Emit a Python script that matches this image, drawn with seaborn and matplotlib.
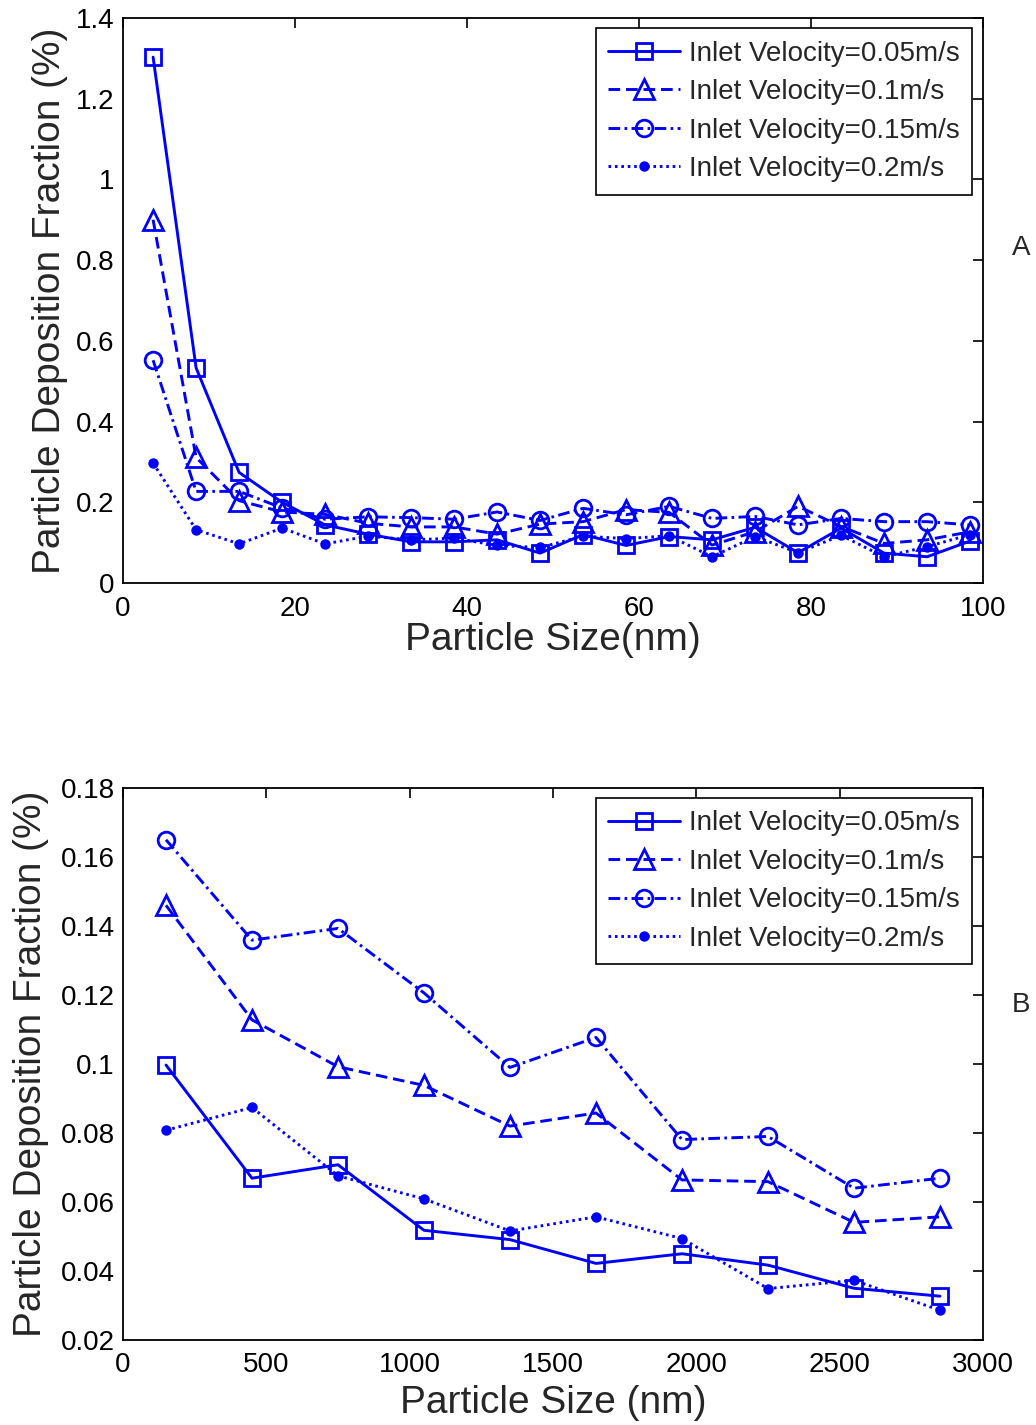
import numpy as np
import pandas as pd
import matplotlib
matplotlib.use("Agg")
import matplotlib.pyplot as plt
import seaborn as sns
from matplotlib.lines import Line2D

# ---------------- data ----------------
labels = ["Inlet Velocity=0.05m/s", "Inlet Velocity=0.1m/s",
          "Inlet Velocity=0.15m/s", "Inlet Velocity=0.2m/s"]

size_a = [3.5, 8.5, 13.5, 18.5, 23.5, 28.5, 33.5, 38.5, 43.5, 48.5,
          53.5, 58.5, 63.5, 68.5, 73.5, 78.5, 83.5, 88.5, 93.5, 98.5]
a_v005 = [1.303, 0.533, 0.274, 0.200, 0.144, 0.121, 0.102, 0.102, 0.107, 0.074,
          0.120, 0.093, 0.115, 0.107, 0.138, 0.075, 0.136, 0.074, 0.065, 0.104]
a_v010 = [0.900, 0.311, 0.204, 0.176, 0.170, 0.148, 0.139, 0.139, 0.121, 0.146,
          0.152, 0.182, 0.175, 0.094, 0.127, 0.190, 0.140, 0.098, 0.107, 0.127]
a_v015 = [0.552, 0.227, 0.227, 0.186, 0.158, 0.164, 0.162, 0.158, 0.176, 0.155,
          0.185, 0.169, 0.190, 0.160, 0.165, 0.144, 0.160, 0.152, 0.152, 0.144]
a_v020 = [0.297, 0.132, 0.097, 0.136, 0.097, 0.116, 0.107, 0.111, 0.093, 0.088,
          0.116, 0.110, 0.117, 0.065, 0.115, 0.075, 0.118, 0.065, 0.090, 0.120]

size_b = [150, 450, 750, 1050, 1350, 1650, 1950, 2250, 2550, 2850]
b_v005 = [0.0997, 0.0669, 0.0708, 0.0518, 0.0491, 0.0422, 0.0450, 0.0417, 0.0350, 0.0327]
b_v010 = [0.1460, 0.1128, 0.0992, 0.0938, 0.0820, 0.0858, 0.0664, 0.0659, 0.0541, 0.0557]
b_v015 = [0.1650, 0.1359, 0.1393, 0.1206, 0.0990, 0.1077, 0.0781, 0.0790, 0.0640, 0.0669]
b_v020 = [0.0808, 0.0874, 0.0676, 0.0609, 0.0516, 0.0557, 0.0494, 0.0349, 0.0373, 0.0286]

xt_a = [0, 20, 40, 60, 80, 100]
yt_a = [0, 0.2, 0.4, 0.6, 0.8, 1.0, 1.2, 1.4]
yt_a_lab = ["0", "0.2", "0.4", "0.6", "0.8", "1", "1.2", "1.4"]
xt_b = [0, 500, 1000, 1500, 2000, 2500, 3000]
yt_b = [0.02, 0.04, 0.06, 0.08, 0.10, 0.12, 0.14, 0.16, 0.18]
yt_b_lab = ["0.02", "0.04", "0.06", "0.08", "0.1", "0.12", "0.14", "0.16", "0.18"]

# ---------------- style ----------------
sns.set_style("white")
plt.rcParams["font.family"] = ["Liberation Sans", "DejaVu Sans"]

BLUE = "#0000ff"
LW = 2.1
MEW = 2.0
styles = [
    dict(linestyle="-", marker="s", markersize=12, markerfacecolor="none"),
    dict(linestyle=(0, (4.0, 2.0)), marker="^", markersize=14, markerfacecolor="none"),
    dict(linestyle=(0, (4.0, 1.5, 0.9, 1.5)), marker="o", markersize=12, markerfacecolor="none"),
    dict(linestyle=(0, (0.9, 1.3)), marker="o", markersize=5.5, markerfacecolor=BLUE),
]

fig = plt.figure(figsize=(10.36, 14.25), dpi=100)
W, H = 1036, 1425


def make_axes(l, t, r, b):
    return fig.add_axes([l / W, 1 - b / H, (r - l) / W, (b - t) / H])


ax_a = make_axes(123, 18, 983, 583)
ax_b = make_axes(123, 788, 983, 1340)


def draw(ax, x, series):
    for lab, y, st in zip(labels, series, styles):
        df = pd.DataFrame({"x": x, "y": y})
        sns.lineplot(data=df, x="x", y="y", ax=ax, color=BLUE, linewidth=LW,
                     markeredgecolor=BLUE, markeredgewidth=MEW, sort=False,
                     label=lab, legend=False, **st)
    handles = [Line2D([], [], color=BLUE, linewidth=LW, markeredgecolor=BLUE,
                      markeredgewidth=MEW, **st) for st in styles]
    leg = ax.legend(handles, labels, loc="upper right",
                    bbox_to_anchor=(0.9872, 0.982), borderaxespad=0,
                    fontsize=20, handlelength=2.6, handletextpad=0.3,
                    labelspacing=0.45, borderpad=0.45, fancybox=False,
                    framealpha=1, edgecolor="black")
    leg.get_frame().set_linewidth(1.2)
    ax.tick_params(direction="in", length=7, width=1.2, top=True, right=True,
                   labelsize=20, colors="black")
    ax.tick_params(axis="x", pad=9)
    ax.tick_params(axis="y", pad=6)
    for s in ax.spines.values():
        s.set_linewidth(1.3)
        s.set_color("black")


draw(ax_a, size_a, [a_v005, a_v010, a_v015, a_v020])
ax_a.set_xlim(0, 100)
ax_a.set_ylim(0, 1.4)
ax_a.set_xticks(xt_a)
ax_a.set_xticklabels([str(v) for v in xt_a])
ax_a.set_yticks(yt_a)
ax_a.set_yticklabels(yt_a_lab)
ax_a.set_xlabel("Particle Size(nm)", fontsize=28, labelpad=0)
ax_a.set_ylabel("Particle Deposition Fraction (%)", fontsize=28, labelpad=6)

draw(ax_b, size_b, [b_v005, b_v010, b_v015, b_v020])
ax_b.set_xlim(0, 3000)
ax_b.set_ylim(0.02, 0.18)
ax_b.set_xticks(xt_b)
ax_b.set_xticklabels([str(v) for v in xt_b])
ax_b.set_yticks(yt_b)
ax_b.set_yticklabels(yt_b_lab)
ax_b.set_xlabel("Particle Size (nm)", fontsize=28, labelpad=5)
ax_b.set_ylabel("Particle Deposition Fraction (%)", fontsize=28, labelpad=8)

fig.text(1021 / W, 1 - 248 / H, "A", fontsize=20, ha="center", va="center")
fig.text(1021 / W, 1 - 1005 / H, "B", fontsize=20, ha="center", va="center")

fig.savefig("out.png", dpi=100)
